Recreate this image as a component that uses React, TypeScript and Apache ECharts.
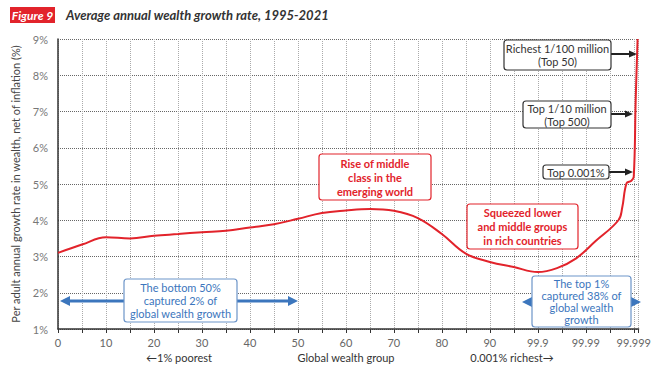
import { useEffect, useRef } from 'react';
import * as echarts from 'echarts';

// Percentile position on an evenly spaced axis (100 = 99.9, 110 = 99.99, 120 = 99.999)
const xPos = [0, 5, 10, 15, 20, 25, 30, 35, 40, 45, 50, 55, 60, 65, 70, 75, 80, 85, 90, 95, 100, 104, 108, 112, 116.8, 117.6, 118.5, 119.5, 120, 120.4, 120.8];
const growth = [3.10, 3.33, 3.53, 3.50, 3.57, 3.62, 3.67, 3.71, 3.80, 3.89, 4.04, 4.20, 4.27, 4.31, 4.26, 4.06, 3.62, 3.08, 2.85, 2.71, 2.57, 2.68, 2.95, 3.42, 4.00, 4.35, 5.02, 5.09, 5.20, 7.30, 9.00];
const xTickValues = [0, 10, 20, 30, 40, 50, 60, 70, 80, 90, 100, 110, 120];
const xTickLabels = ['0', '10', '20', '30', '40', '50', '60', '70', '80', '90', '99.9', '99.99', '99.999'];

const RED = '#e2232b';
const BLUE = '#3c76bd';
const FONT = 'Lato, "Noto Sans", sans-serif';

function arrowHead(x: number, y: number, dir: number, len: number, half: number, color: string) {
  return {
    type: 'polygon',
    shape: { points: [[x, y], [x - dir * len, y - half], [x - dir * len, y + half]] },
    style: { fill: color },
    z: 20,
  };
}

function box(x: number, y: number, w: number, h: number, text: string, color: string, textColor: string, bold: boolean, lh: number) {
  return [
    {
      type: 'rect',
      shape: { x, y, width: w, height: h, r: 3 },
      style: { fill: '#fff', stroke: color, lineWidth: 1.2 },
      z: 30,
    },
    {
      type: 'text',
      x: x + w / 2,
      y: y + h / 2,
      style: {
        text,
        fill: textColor,
        font: `${bold ? 'bold ' : ''}11px ${FONT}`,
        align: 'center',
        verticalAlign: 'middle',
        lineHeight: lh,
      },
      z: 31,
    },
  ];
}

export default function App() {
  const ref = useRef<HTMLDivElement>(null);
  useEffect(() => {
    document.body.style.margin = '0';
    if (!ref.current) return;
    const chart = echarts.init(ref.current, undefined, { renderer: 'svg' });
    const data = xPos.map((x, i) => [x, growth[i]]);
    const darkArrow = (x1: number, x2: number, y: number) => [
      { type: 'line', shape: { x1, y1: y, x2: x2 - 6, y2: y }, style: { stroke: '#222', lineWidth: 2 }, z: 20 },
      arrowHead(x2, y, 1, 8, 3.5, '#222'),
    ];
    const blueArrow = (x1: number, x2: number, y: number) => [
      { type: 'line', shape: { x1: x1 + 6, y1: y, x2: x2 - 6, y2: y }, style: { stroke: BLUE, lineWidth: 3 }, z: 20 },
      arrowHead(x2, y, 1, 10, 5, BLUE),
      arrowHead(x1, y, -1, 10, 5, BLUE),
    ];
    chart.setOption({
      animation: false,
      backgroundColor: '#fff',
      textStyle: { fontFamily: FONT },
      grid: { left: 58, right: 14, top: 39, bottom: 41 },
      xAxis: {
        type: 'value',
        min: 0,
        max: 121,
        interval: 5,
        axisLine: { show: true, lineStyle: { color: '#333', width: 1.5 } },
        axisTick: { show: true, length: 4, lineStyle: { color: '#333' } },
        axisLabel: {
          color: '#666',
          fontSize: 11,
          fontFamily: FONT,
          margin: 8,
          formatter: (v: number) => {
            const i = xTickValues.indexOf(v);
            return i >= 0 ? xTickLabels[i] : '';
          },
        },
        splitLine: { show: true, lineStyle: { color: '#aaa', type: 'dotted', width: 1 } },
      },
      yAxis: {
        type: 'value',
        min: 1,
        max: 9,
        interval: 1,
        name: 'Per adult annual growth rate in wealth, net of inflation (%)',
        nameLocation: 'middle',
        nameGap: 37,
        nameTextStyle: { color: '#444', fontSize: 11, fontFamily: FONT },
        axisLine: { show: true, lineStyle: { color: '#333', width: 1.5 } },
        axisTick: { show: false },
        axisLabel: { color: '#777', fontSize: 11, fontFamily: FONT, formatter: '{value}%', margin: 10 },
        splitLine: { show: true, lineStyle: { color: '#666', type: 'dotted', width: 1 } },
      },
      series: [
        {
          type: 'line',
          data,
          showSymbol: false,
          smooth: 0.4,
          clip: true,
          lineStyle: { color: RED, width: 2 },
          z: 10,
        },
      ],
      graphic: [
        { type: 'rect', shape: { x: 10, y: 7, width: 45, height: 16 }, style: { fill: RED } },
        {
          type: 'text', x: 32.5, y: 15,
          style: { text: 'Figure 9', fill: '#fff', font: `italic bold 12px ${FONT}`, align: 'center', verticalAlign: 'middle' },
        },
        {
          type: 'text', x: 66, y: 15,
          style: { text: 'Average annual wealth growth rate, 1995-2021', fill: '#333', font: `italic bold 13px ${FONT}`, align: 'left', verticalAlign: 'middle' },
        },
        { type: 'text', x: 179, y: 357, style: { text: '←1% poorest', fill: '#333', font: `11px ${FONT}`, align: 'center', verticalAlign: 'middle' } },
        { type: 'text', x: 346, y: 357, style: { text: 'Global wealth group', fill: '#333', font: `11px ${FONT}`, align: 'center', verticalAlign: 'middle' } },
        { type: 'text', x: 512, y: 357, style: { text: '0.001% richest→', fill: '#333', font: `11px ${FONT}`, align: 'center', verticalAlign: 'middle' } },
        ...darkArrow(611, 637, 54),
        ...darkArrow(611, 633, 114),
        ...darkArrow(609, 633, 172),
        ...box(504, 40, 107, 30, 'Richest 1/100 million\n(Top 50)', '#333', '#333', false, 13),
        ...box(523, 101, 88, 27, 'Top 1/10 million\n(Top 500)', '#333', '#333', false, 13),
        ...box(543, 165, 66, 14, 'Top 0.001%', '#333', '#333', false, 13),
        ...box(319, 154, 112, 46, 'Rise of middle\nclass in the\nemerging world', RED, RED, true, 14),
        ...box(467, 204, 111, 45, 'Squeezed lower\nand middle groups\nin rich countries', RED, RED, true, 14),
        ...blueArrow(60, 298, 301),
        ...blueArrow(522, 641, 302),
        ...box(124, 279, 113, 43, 'The bottom 50%\ncaptured 2% of\nglobal wealth growth', '#6d95c9', BLUE, false, 13),
        ...box(532, 276, 99, 51, 'The top 1%\ncaptured 38% of\nglobal wealth\ngrowth', '#6d95c9', BLUE, false, 12),
      ],
    });
    return () => chart.dispose();
  }, []);
  return <div ref={ref} style={{ width: 654, height: 370 }} />;
}
